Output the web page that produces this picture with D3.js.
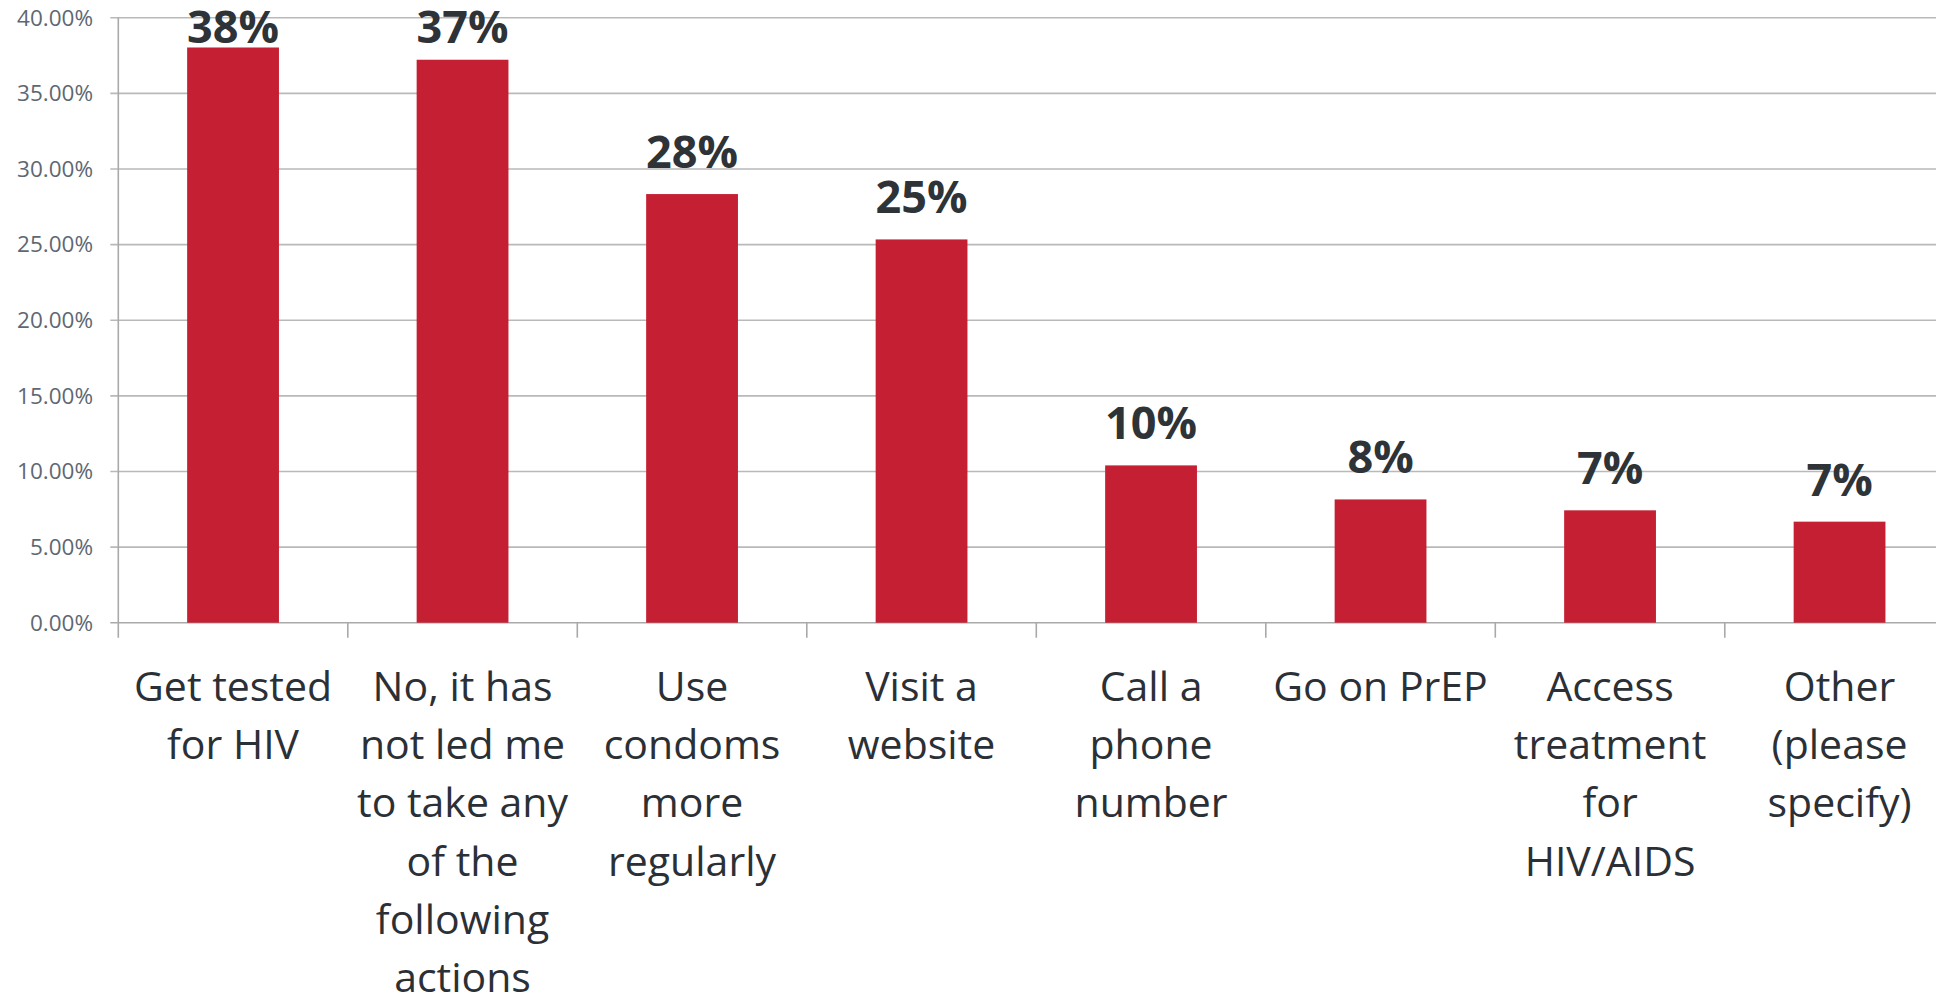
<!DOCTYPE html>
<html>
<head>
<meta charset="utf-8">
<script src="https://cdn.jsdelivr.net/npm/d3@7"></script>
<style>
  html, body { margin: 0; padding: 0; background: #ffffff; overflow: hidden; }
  svg { display: block; }
</style>
</head>
<body>
<svg id="chart" width="1936" height="996"></svg>
<script>
const categories = [
  "Get tested\nfor HIV",
  "No, it has\nnot led me\nto take any\nof the\nfollowing\nactions",
  "Use\ncondoms\nmore\nregularly",
  "Visit a\nwebsite",
  "Call a\nphone\nnumber",
  "Go on PrEP",
  "Access\ntreatment\nfor\nHIV/AIDS",
  "Other\n(please\nspecify)"
];
const values = [0.3803, 0.3722, 0.2834, 0.2534, 0.1040, 0.0815, 0.0743, 0.0668];
const yTicks = [0, 0.05, 0.10, 0.15, 0.20, 0.25, 0.30, 0.35, 0.40];

(function () {
const W = 1936, H = 996;
const mLeft = 118.3, mTop = 17.7, mBottom = 622.7, step = 229.5;
const svg = d3.select("#chart");

const x = d3.scaleBand()
  .domain(categories)
  .range([mLeft, mLeft + step * categories.length])
  .paddingInner(0.6)
  .paddingOuter(0.3);
const y = d3.scaleLinear().domain([0, 0.40]).range([mBottom, mTop]);

const gridColor = "#b9b9b9";
const axisColor = "#a9a9a9";

// Gridlines + y ticks
svg.append("g").selectAll("line").data(yTicks).join("line")
  .attr("x1", mLeft - 8).attr("x2", W)
  .attr("y1", d => y(d)).attr("y2", d => y(d))
  .attr("stroke", d => d === 0 ? axisColor : gridColor)
  .attr("stroke-width", 1.6);

// Y axis line
svg.append("line")
  .attr("x1", mLeft).attr("x2", mLeft)
  .attr("y1", y(0.40)).attr("y2", mBottom + 15)
  .attr("stroke", axisColor).attr("stroke-width", 1.6);

// Y tick labels
const fmt = d3.format(".2%");
svg.append("g").selectAll("text").data(yTicks).join("text")
  .attr("x", 93).attr("y", d => y(d) + 7.8)
  .attr("text-anchor", "end")
  .attr("font-family", "'Open Sans', sans-serif")
  .attr("font-size", 22.5)
  .attr("fill", "#5d6873")
  .text(d => fmt(d));

// Category boundary ticks
const bounds = d3.range(categories.length + 1).map(i => x(categories[0]) + x.bandwidth() / 2 - x.step() / 2 + i * x.step());
svg.append("g").selectAll("line").data(bounds.slice(1)).join("line")
  .attr("x1", d => d).attr("x2", d => d)
  .attr("y1", mBottom).attr("y2", mBottom + 15)
  .attr("stroke", axisColor).attr("stroke-width", 1.6);

// Bars
svg.append("g").selectAll("rect").data(values).join("rect")
  .attr("x", (d, i) => x(categories[i]))
  .attr("width", x.bandwidth())
  .attr("y", d => y(d))
  .attr("height", d => y(0) - y(d))
  .attr("fill", "#c41f32");

// Data labels
svg.append("g").selectAll("text").data(values).join("text")
  .attr("x", (d, i) => x(categories[i]) + x.bandwidth() / 2)
  .attr("y", d => Math.max(y(d) - 26, 43.3))
  .attr("text-anchor", "middle")
  .attr("font-family", "'Open Sans', sans-serif")
  .attr("font-weight", 700)
  .attr("font-size", 45)
  .attr("fill", "#2e3338")
  .text(d => Math.round(d * 100) + "%");

// Category labels
const catG = svg.append("g");
categories.forEach((c, i) => {
  const t = catG.append("text")
    .attr("x", x(c) + x.bandwidth() / 2)
    .attr("y", 700.7)
    .attr("text-anchor", "middle")
    .attr("font-family", "'Open Sans', sans-serif")
    .attr("font-size", 41)
    .attr("fill", "#2b3036");
  c.split("\n").forEach((line, j) => {
    t.append("tspan")
      .attr("x", x(c) + x.bandwidth() / 2)
      .attr("y", 700.7 + j * 58.3)
      .text(line);
  });
});
})();
</script>
</body>
</html>
